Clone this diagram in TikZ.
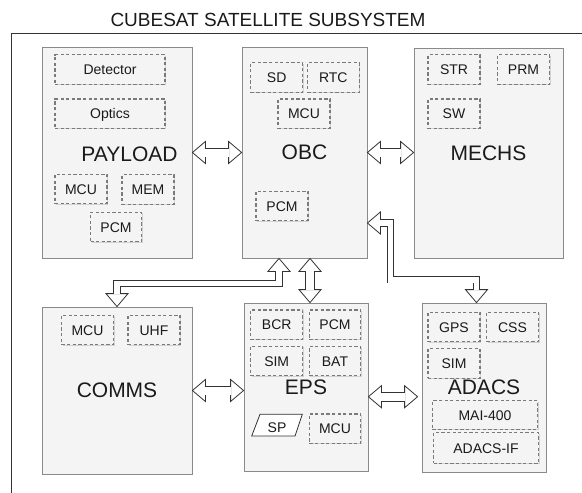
\documentclass[tikz,border=0pt]{standalone}
\usepackage{fontspec}
\setmainfont{Liberation Sans}
\usetikzlibrary{calc,shadows}
\definecolor{boxfill}{HTML}{F4F4F4}
\definecolor{boxdraw}{HTML}{8A8A8A}
\definecolor{dashdraw}{HTML}{7A7A7A}
\definecolor{ink}{HTML}{1A1A1A}
\definecolor{arrowline}{HTML}{333333}
\tikzset{
  sysbox/.style={draw=boxdraw, fill=boxfill, line width=0.8pt, inner sep=0pt,
    drop shadow={shadow xshift=1.4pt, shadow yshift=-1.4pt, fill=black!35, opacity=0.6},
    font=\fontsize{21}{24}\selectfont, text=ink, text depth=0pt},
  bigtext/.style={font=\fontsize{21}{24}\selectfont, text=ink, text depth=0pt, inner sep=0pt},
  part/.style={draw=dashdraw, fill=boxfill, line width=1.2pt, dash pattern=on 3.2pt off 2.4pt,
    inner sep=0pt, drop shadow={shadow xshift=1pt, shadow yshift=-1pt, fill=black!30, opacity=0.5},
    font=\fontsize{14}{16}\selectfont, text=ink, text height=10pt, text depth=0pt,
    minimum width=52pt, minimum height=29.5pt},
  smalltext/.style={font=\fontsize{14}{16}\selectfont, text=ink, text height=10pt, text depth=0pt, inner sep=0pt},
  headline/.style={fill=white, draw=arrowline, line width=0.8pt, line join=miter},
  bhead/.pic={\draw[headline] (0pt,0pt) -- (-13pt,-11pt) -- (-13pt,11pt) -- cycle;},
  wideshaft/.style={draw=arrowline, line width=0.8pt, double=white, double distance=8pt,
    shorten <=12.4pt, shorten >=12.4pt, line join=miter},
  thinshaft/.style={draw=arrowline, line width=0.8pt, double=white, double distance=5.8pt,
    shorten <=12.4pt, shorten >=12.4pt, line join=miter},
  spshape/.style={fill=white, draw=arrowline, line width=0.8pt, line join=miter},
  frameline/.style={draw=arrowline, line width=1pt}
}
\begin{document}
\begin{tikzpicture}[x=1pt, y=-1pt]
\useasboundingbox (0,0) rectangle (582,493);
% title and frame
\node[font=\fontsize{19}{22}\selectfont, text=ink, text depth=0pt, inner sep=0pt] (title) at (268,19.5) {CUBESAT SATELLITE SUBSYSTEM};
\draw[frameline] (11.5,495) -- (11.5,33.5) -- (584,33.5);

% main subsystem boxes
\node[sysbox, minimum width=150pt, minimum height=211pt] (payload) at (117,152.5) {};
\node[bigtext] (payloadlbl) at (129.5,154) {PAYLOAD};
\node[sysbox, minimum width=125pt, minimum height=211pt] (obc) at (304.5,152.5) {OBC};
\node[sysbox, minimum width=149pt, minimum height=210pt] (mechs) at (488.5,153) {MECHS};
\node[sysbox, minimum width=150pt, minimum height=167pt] (comms) at (117,390.5) {COMMS};
\node[sysbox, minimum width=124pt, minimum height=168pt] (eps) at (306,387) {EPS};
\node[sysbox, minimum width=124pt, minimum height=169pt] (adacs) at (484,387.5) {ADACS};

% payload parts
\node[part, minimum width=110pt] (detector) at (110,69.5) {Detector};
\node[part, minimum width=110pt] (optics) at (110,113.7) {Optics};
\node[part] (plmcu) at (81,189) {MCU};
\node[part] (plmem) at (148,189.5) {MEM};
\node[part, minimum width=51pt] (plpcm) at (116,227) {PCM};

% obc parts
\node[part] (sd) at (276.7,77.5) {SD};
\node[part] (rtc) at (333.3,77.5) {RTC};
\node[part] (obcmcu) at (304,113.7) {MCU};
\node[part] (obcpcm) at (282,206) {PCM};

% mechs parts
\node[part] (str) at (454,69.5) {STR};
\node[part] (prm) at (523.5,69.5) {PRM};
\node[part] (sw) at (454,113.7) {SW};

% comms parts
\node[part] (comcu) at (87.5,330) {MCU};
\node[part] (uhf) at (154,330) {UHF};

% eps parts
\node[part] (bcr) at (276.7,324.7) {BCR};
\node[part, minimum width=51.4pt] (epspcm) at (335,324.7) {PCM};
\node[part] (epssim) at (276.7,361) {SIM};
\node[part, minimum width=51.4pt] (bat) at (335,361) {BAT};
\node[part, minimum width=51.4pt] (epsmcu) at (335,428.7) {MCU};
\coordinate (spc) at (277,425);
\draw[spshape] ($(spc)+(-25.3,11)$) -- ($(spc)+(18,11)$) -- ($(spc)+(25.3,-10.7)$) -- ($(spc)+(-17,-10.7)$) -- cycle;
\node[smalltext] (sp) at (277,427) {SP};

% adacs parts
\node[part] (gps) at (454,327) {GPS};
\node[part] (css) at (512.5,327) {CSS};
\node[part, minimum height=30pt] (adsim) at (454,363.3) {SIM};
\node[part, minimum width=105.4pt, minimum height=28.6pt] (mai) at (485,415) {MAI-400};
\node[part, minimum width=105pt, minimum height=30.6pt] (adif) at (486,448) {ADACS-IF};

% connector end points
\coordinate (po1) at (payload.east);
\coordinate (po2) at (obc.west);
\coordinate (om1) at (obc.east);
\coordinate (om2) at (obc.east -| mechs.west);
\coordinate (ce1) at (comms.east);
\coordinate (ce2) at (comms.east -| eps.west);
\coordinate (ea1) at ($(eps.east)+(0,9.7)$);
\coordinate (ea2) at ($(ea1 -| adacs.west)+(-4,0)$);
\coordinate (oe1) at ($(obc.south)+(5.5,0)$);
\coordinate (oe2) at (oe1 |- eps.north);
\coordinate (oc1) at ($(obc.south)+(-25.5,0)$);
\coordinate (oc2) at (comms.north);
\coordinate (oa1) at ($(obc.east)+(0,70.5)$);
\coordinate (oa2) at ($(adacs.north)+(-7.5,0)$);

% arrow heads
\pic[rotate=180] at (po1) {bhead};
\pic at (po2) {bhead};
\pic[rotate=180] at (om1) {bhead};
\pic at (om2) {bhead};
\pic[rotate=180] at (ce1) {bhead};
\pic at (ce2) {bhead};
\pic[rotate=180] at (ea1) {bhead};
\pic at (ea2) {bhead};
\pic[rotate=90] at (oe1) {bhead};
\pic[rotate=-90] at (oe2) {bhead};
\pic[rotate=90] at (oc1) {bhead};
\pic[rotate=-90] at (oc2) {bhead};
\pic[rotate=180] at (oa1) {bhead};
\pic[rotate=-90] at (oa2) {bhead};

% arrow shafts
\draw[wideshaft] (po1) -- (po2);
\draw[wideshaft] (om1) -- (om2);
\draw[wideshaft] (ce1) -- (ce2);
\draw[wideshaft] (ea1) -- (ea2);
\draw[wideshaft] (oe1) -- (oe2);
\draw[thinshaft] (oc1) -- ++(0,25) -| (oc2);
\draw[thinshaft] (oa1) -- ++(23,0) |- ($(oa2)+(0,-23)$) -- (oa2);
\end{tikzpicture}
\end{document}
